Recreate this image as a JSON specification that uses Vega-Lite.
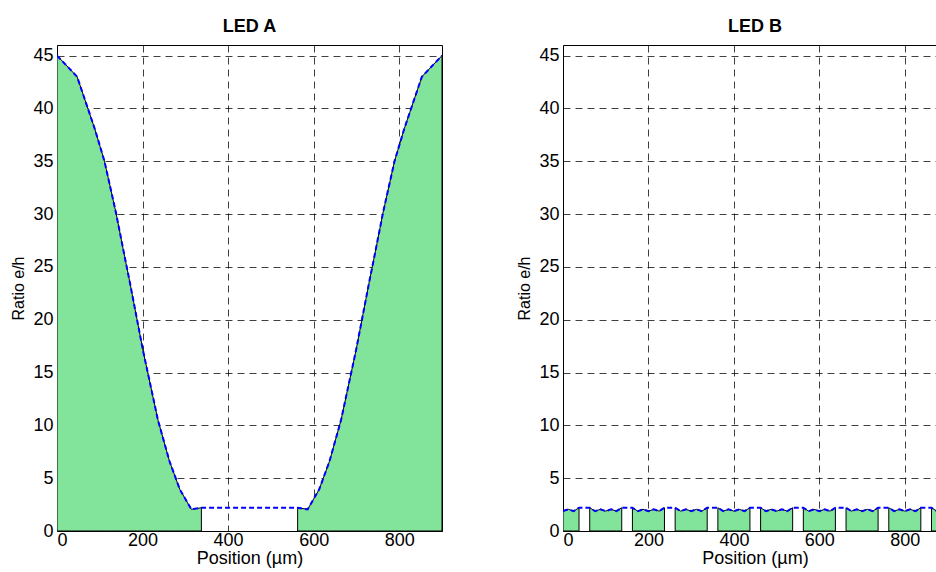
{
  "$schema": "https://vega.github.io/schema/vega-lite/v6.json",
  "background": "white",
  "padding": {"left": 10, "top": 17, "right": 0, "bottom": 0},
  "spacing": 73,
  "config": {
    "font": "Liberation Sans",
    "view": {"stroke": "black", "strokeWidth": 1},
    "axis": {
      "grid": true, "gridDash": [7, 5], "gridColor": "black", "gridOpacity": 0.75, "gridWidth": 1,
      "domain": false, "ticks": false,
      "labelFontSize": 18, "labelColor": "black", "labelFont": "Liberation Sans",
      "titleColor": "black", "titleFontWeight": "normal", "titleFont": "Liberation Sans"
    },
    "title": {"fontSize": 18, "fontWeight": "bold", "font": "Liberation Sans", "color": "black", "offset": 9}
  },
  "datasets": {
    "ledA": [
      {"x": 0, "y": 45, "seg": "a1"}, {"x": 47, "y": 43, "seg": "a1"}, {"x": 88, "y": 38.1, "seg": "a1"},
      {"x": 111, "y": 35, "seg": "a1"}, {"x": 138, "y": 30.1, "seg": "a1"}, {"x": 158, "y": 26, "seg": "a1"},
      {"x": 170, "y": 23.6, "seg": "a1"}, {"x": 201, "y": 17.1, "seg": "a1"}, {"x": 236, "y": 10.5, "seg": "a1"},
      {"x": 263, "y": 6.6, "seg": "a1"}, {"x": 287, "y": 3.95, "seg": "a1"}, {"x": 314, "y": 2.05, "seg": "a1"},
      {"x": 337.5, "y": 2.2, "seg": "a1"},
      {"x": 562.5, "y": 2.2, "seg": "a2"}, {"x": 586, "y": 2.05, "seg": "a2"}, {"x": 613, "y": 3.95, "seg": "a2"},
      {"x": 637, "y": 6.6, "seg": "a2"}, {"x": 664, "y": 10.5, "seg": "a2"}, {"x": 699, "y": 17.1, "seg": "a2"},
      {"x": 730, "y": 23.6, "seg": "a2"}, {"x": 742, "y": 26, "seg": "a2"}, {"x": 762, "y": 30.1, "seg": "a2"},
      {"x": 789, "y": 35, "seg": "a2"}, {"x": 812, "y": 38.1, "seg": "a2"}, {"x": 853, "y": 43, "seg": "a2"},
      {"x": 900, "y": 45, "seg": "a2"}
    ],
    "ledB": [
      {"x": 0, "y": 1.88, "seg": "b0"}, {"x": 12.5, "y": 2.05, "seg": "b0"}, {"x": 25, "y": 1.88, "seg": "b0"}, {"x": 37.5, "y": 2.2, "seg": "b0"},
      {"x": 62.5, "y": 2.2, "seg": "b1"}, {"x": 75, "y": 1.88, "seg": "b1"}, {"x": 87.5, "y": 2.05, "seg": "b1"}, {"x": 100, "y": 1.88, "seg": "b1"}, {"x": 112.5, "y": 2.05, "seg": "b1"}, {"x": 125, "y": 1.88, "seg": "b1"}, {"x": 137.5, "y": 2.2, "seg": "b1"},
      {"x": 162.5, "y": 2.2, "seg": "b2"}, {"x": 175, "y": 1.88, "seg": "b2"}, {"x": 187.5, "y": 2.05, "seg": "b2"}, {"x": 200, "y": 1.88, "seg": "b2"}, {"x": 212.5, "y": 2.05, "seg": "b2"}, {"x": 225, "y": 1.88, "seg": "b2"}, {"x": 237.5, "y": 2.2, "seg": "b2"},
      {"x": 262.5, "y": 2.2, "seg": "b3"}, {"x": 275, "y": 1.88, "seg": "b3"}, {"x": 287.5, "y": 2.05, "seg": "b3"}, {"x": 300, "y": 1.88, "seg": "b3"}, {"x": 312.5, "y": 2.05, "seg": "b3"}, {"x": 325, "y": 1.88, "seg": "b3"}, {"x": 337.5, "y": 2.2, "seg": "b3"},
      {"x": 362.5, "y": 2.2, "seg": "b4"}, {"x": 375, "y": 1.88, "seg": "b4"}, {"x": 387.5, "y": 2.05, "seg": "b4"}, {"x": 400, "y": 1.88, "seg": "b4"}, {"x": 412.5, "y": 2.05, "seg": "b4"}, {"x": 425, "y": 1.88, "seg": "b4"}, {"x": 437.5, "y": 2.2, "seg": "b4"},
      {"x": 462.5, "y": 2.2, "seg": "b5"}, {"x": 475, "y": 1.88, "seg": "b5"}, {"x": 487.5, "y": 2.05, "seg": "b5"}, {"x": 500, "y": 1.88, "seg": "b5"}, {"x": 512.5, "y": 2.05, "seg": "b5"}, {"x": 525, "y": 1.88, "seg": "b5"}, {"x": 537.5, "y": 2.2, "seg": "b5"},
      {"x": 562.5, "y": 2.2, "seg": "b6"}, {"x": 575, "y": 1.88, "seg": "b6"}, {"x": 587.5, "y": 2.05, "seg": "b6"}, {"x": 600, "y": 1.88, "seg": "b6"}, {"x": 612.5, "y": 2.05, "seg": "b6"}, {"x": 625, "y": 1.88, "seg": "b6"}, {"x": 637.5, "y": 2.2, "seg": "b6"},
      {"x": 662.5, "y": 2.2, "seg": "b7"}, {"x": 675, "y": 1.88, "seg": "b7"}, {"x": 687.5, "y": 2.05, "seg": "b7"}, {"x": 700, "y": 1.88, "seg": "b7"}, {"x": 712.5, "y": 2.05, "seg": "b7"}, {"x": 725, "y": 1.88, "seg": "b7"}, {"x": 737.5, "y": 2.2, "seg": "b7"},
      {"x": 762.5, "y": 2.2, "seg": "b8"}, {"x": 775, "y": 1.88, "seg": "b8"}, {"x": 787.5, "y": 2.05, "seg": "b8"}, {"x": 800, "y": 1.88, "seg": "b8"}, {"x": 812.5, "y": 2.05, "seg": "b8"}, {"x": 825, "y": 1.88, "seg": "b8"}, {"x": 837.5, "y": 2.2, "seg": "b8"},
      {"x": 862.5, "y": 2.2, "seg": "b9"}, {"x": 875, "y": 1.88, "seg": "b9"}, {"x": 887.5, "y": 2.05, "seg": "b9"}, {"x": 900, "y": 1.88, "seg": "b9"}
    ]
  },
  "hconcat": [
    {
      "title": {"text": "LED A"},
      "width": 385,
      "height": 486,
      "data": {"name": "ledA"},
      "encoding": {
        "x": {"field": "x", "type": "quantitative", "scale": {"domain": [0, 900], "nice": false},
              "axis": {"values": [0, 200, 400, 600, 800], "title": "Position (µm)", "titleFontSize": 18, "titlePadding": 0, "labelPadding": 0}},
        "y": {"field": "y", "type": "quantitative", "scale": {"domain": [0, 46], "nice": false},
              "axis": {"values": [0, 5, 10, 15, 20, 25, 30, 35, 40, 45], "title": "Ratio e/h", "titleFontSize": 16, "titlePadding": 6, "labelPadding": 4}}
      },
      "layer": [
        {"mark": {"type": "area", "color": "#81E49A", "stroke": "black", "strokeWidth": 1, "clip": true},
         "encoding": {
           "y": {"field": "y", "type": "quantitative", "stack": null},
           "detail": {"field": "seg", "type": "nominal"}}},
        {"mark": {"type": "line", "color": "#0000FF", "strokeWidth": 2, "strokeDash": [5, 3], "clip": true},
         "encoding": {}}
      ]
    },
    {
      "title": {"text": "LED B", "dx": 5.5},
      "width": 373,
      "height": 486,
      "data": {"name": "ledB"},
      "encoding": {
        "x": {"field": "x", "type": "quantitative", "scale": {"domain": [0, 873], "nice": false},
              "axis": {"values": [0, 200, 400, 600, 800], "title": "Position (µm)", "titleFontSize": 18, "titlePadding": 0, "labelPadding": 0, "titleX": 192}},
        "y": {"field": "y", "type": "quantitative", "scale": {"domain": [0, 46], "nice": false},
              "axis": {"values": [0, 5, 10, 15, 20, 25, 30, 35, 40, 45], "title": "Ratio e/h", "titleFontSize": 16, "titlePadding": 6, "labelPadding": 4}}
      },
      "layer": [
        {"mark": {"type": "area", "color": "#81E49A", "stroke": "black", "strokeWidth": 1, "clip": true},
         "encoding": {
           "y": {"field": "y", "type": "quantitative", "stack": null},
           "detail": {"field": "seg", "type": "nominal"}}},
        {"mark": {"type": "line", "color": "#0000FF", "strokeWidth": 2, "strokeDash": [5, 3], "clip": true},
         "encoding": {}}
      ]
    }
  ]
}
